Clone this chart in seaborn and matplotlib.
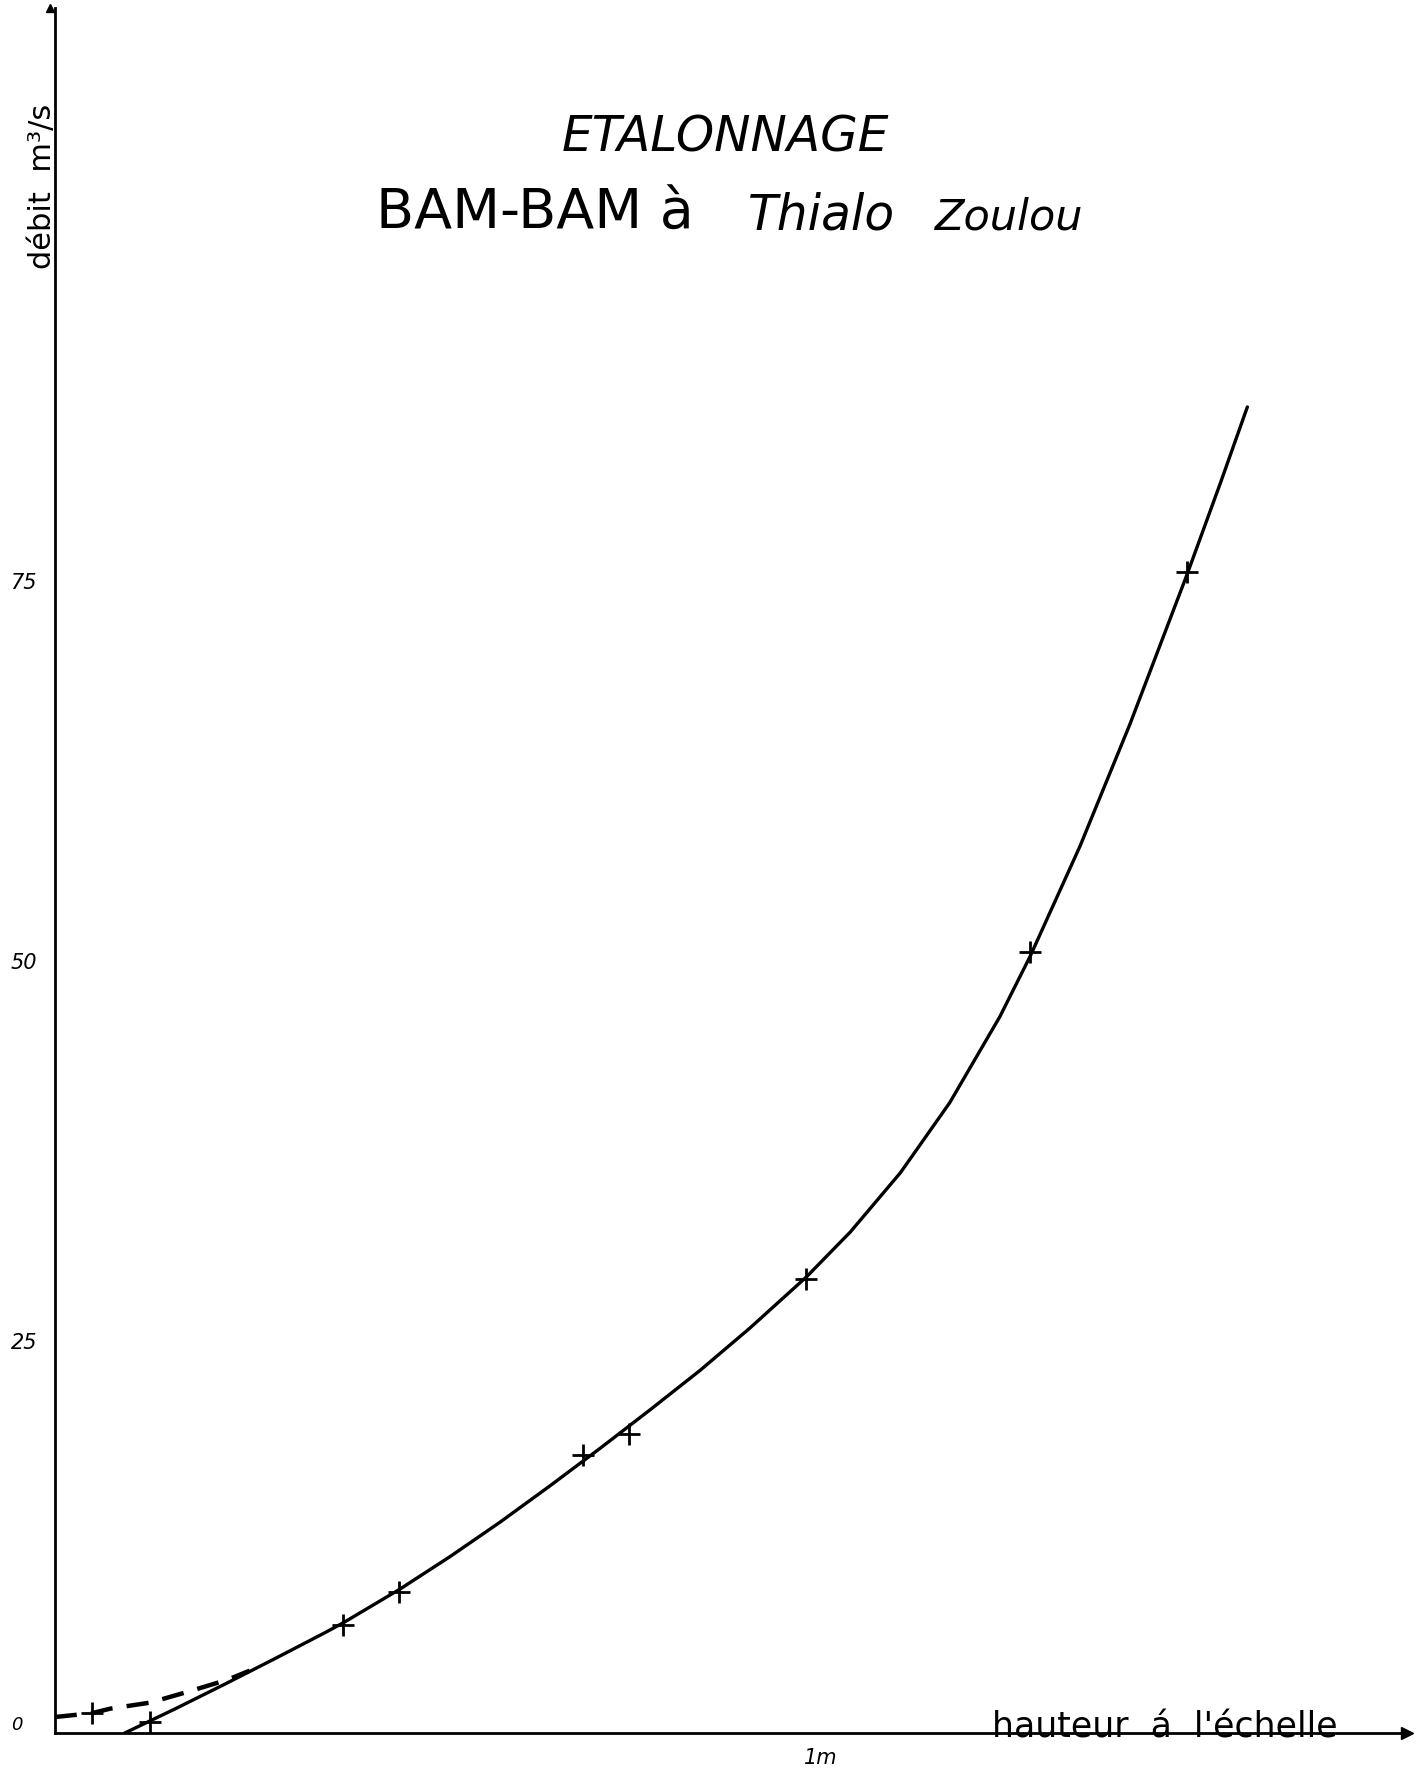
import matplotlib
matplotlib.use("Agg")
import matplotlib.pyplot as plt
import matplotlib.transforms as mtransforms
import seaborn as sns
import pandas as pd

sns.set_style("white")
plt.rcParams['font.family'] = ['DejaVu Sans']
plt.rcParams['text.color'] = 'black'

# ---- data ----
# measured gaugings (crosses)
hauteur_mesures = [0.054, 0.130, 0.380, 0.453, 0.691, 0.751, 0.981, 1.271, 1.475]
debit_mesures = [1.3, 0.7, 7.1, 9.3, 18.3, 19.7, 29.9, 51.4, 76.4]

# solid rating curve
courbe_h = [0.097, 0.162, 0.227, 0.292, 0.357, 0.380, 0.454, 0.519, 0.584, 0.649,
            0.713, 0.778, 0.843, 0.908, 0.981, 1.038, 1.103, 1.167, 1.232, 1.271,
            1.336, 1.401, 1.475, 1.518, 1.553]
courbe_q = [0.0, 1.58, 3.22, 4.90, 6.61, 7.24, 9.47, 11.61, 13.88, 16.28,
            18.71, 21.25, 23.85, 26.65, 30.0, 32.96, 36.86, 41.47, 47.13, 51.07,
            58.35, 66.41, 76.25, 82.23, 87.24]

# dashed low-water branch
tirets_h = [0.006, 0.054, 0.078, 0.130, 0.178, 0.230, 0.259]
tirets_q = [1.05, 1.3, 1.6, 2.0, 2.7, 3.5, 4.1]

y_ticks = [0, 25, 50, 75]
y_tick_labels = ["0", "25", "50", "75"]
x_ticks = [1.0]
x_tick_labels = ["1m"]

titre_1 = "ETALONNAGE"
titre_2a = "BAM-BAM à"
titre_2b = "Thialo"
titre_2c = "Zoulou"
label_y = "débit  m³/s"
label_x = "hauteur  á  l'échelle"

# ---- figure ----
W, H = 1421, 1771
fig = plt.figure(figsize=(W / 100, H / 100), dpi=100)
x_org, y0 = 50, 1733       # pixel position of data origin
x_axis = 55                # pixel position of the drawn vertical axis
x_tip, y_tip = 1407, 8     # arrow tips
px_per_m = 771
px_per_q = 15.2
ax = fig.add_axes([x_axis / W, (H - y0) / H, (x_tip - x_axis) / W, (y0 - y_tip) / H])
ax.set_xlim((x_axis - x_org) / px_per_m, (x_tip - x_org) / px_per_m)
ax.set_ylim(0, (y0 - y_tip) / px_per_q)

df_c = pd.DataFrame({"h": courbe_h, "q": courbe_q})
df_t = pd.DataFrame({"h": tirets_h, "q": tirets_q})
df_m = pd.DataFrame({"h": hauteur_mesures, "q": debit_mesures})

sns.lineplot(data=df_c, x="h", y="q", color="black", linewidth=2.4, ax=ax)
sns.lineplot(data=df_t, x="h", y="q", color="black", linewidth=3.2, ax=ax,
             dashes=False, linestyle=(0, (5, 3.2)))
sns.scatterplot(data=df_m, x="h", y="q", marker="+", s=260, color="black",
                linewidth=2.0, ax=ax, zorder=5)

for s in ["top", "right"]:
    ax.spines[s].set_visible(False)
for s in ["left", "bottom"]:
    ax.spines[s].set_linewidth(2.0)
    ax.spines[s].set_color("black")

ax.plot(1, 0, ">k", transform=ax.get_yaxis_transform(), clip_on=False, markersize=9)
ax.plot(0, 1, "^k", transform=ax.get_xaxis_transform(), clip_on=False, markersize=6)

ax.set_yticks(y_ticks)
ax.set_yticklabels(y_tick_labels, fontstyle="italic", fontsize=15, va="bottom")
ax.set_xticks(x_ticks)
ax.set_xticklabels(x_tick_labels, fontstyle="italic", fontsize=15)
ax.tick_params(axis="y", direction="out", length=9, width=2, pad=4, colors="black")
ax.tick_params(axis="x", direction="out", length=9, width=2, pad=2, colors="black")
zero_tick = ax.yaxis.get_major_ticks()[0]
zero_tick.tick1line.set_visible(False)
zero_lab = zero_tick.label1
zero_lab.set_fontsize(13)
zero_lab.set_transform(zero_lab.get_transform() +
                       mtransforms.ScaledTranslation(-0.14, -0.01, fig.dpi_scale_trans))
ax.set_xlabel("")
ax.set_ylabel("")
ax.grid(False)

# texts (figure pixel coordinates)
def fx(px):
    return px / W

def fy(py):
    return 1 - py / H

fig.text(fx(725), fy(152), titre_1, fontsize=35, fontstyle="italic",
         ha="center", va="baseline")
fig.text(fx(376), fy(229), titre_2a, fontsize=40, ha="left", va="baseline")
fig.text(fx(748), fy(229), titre_2b, fontsize=35, fontstyle="italic",
         ha="left", va="baseline")
fig.text(fx(935), fy(229), titre_2c, fontsize=31, fontstyle="italic",
         ha="left", va="baseline")
fig.text(fx(57), fy(186), label_y, fontsize=22, rotation=90,
         ha="right", va="center")
fig.text(fx(992), fy(1737), label_x, fontsize=25, ha="left", va="baseline")

fig.savefig("out.png", dpi=100)
